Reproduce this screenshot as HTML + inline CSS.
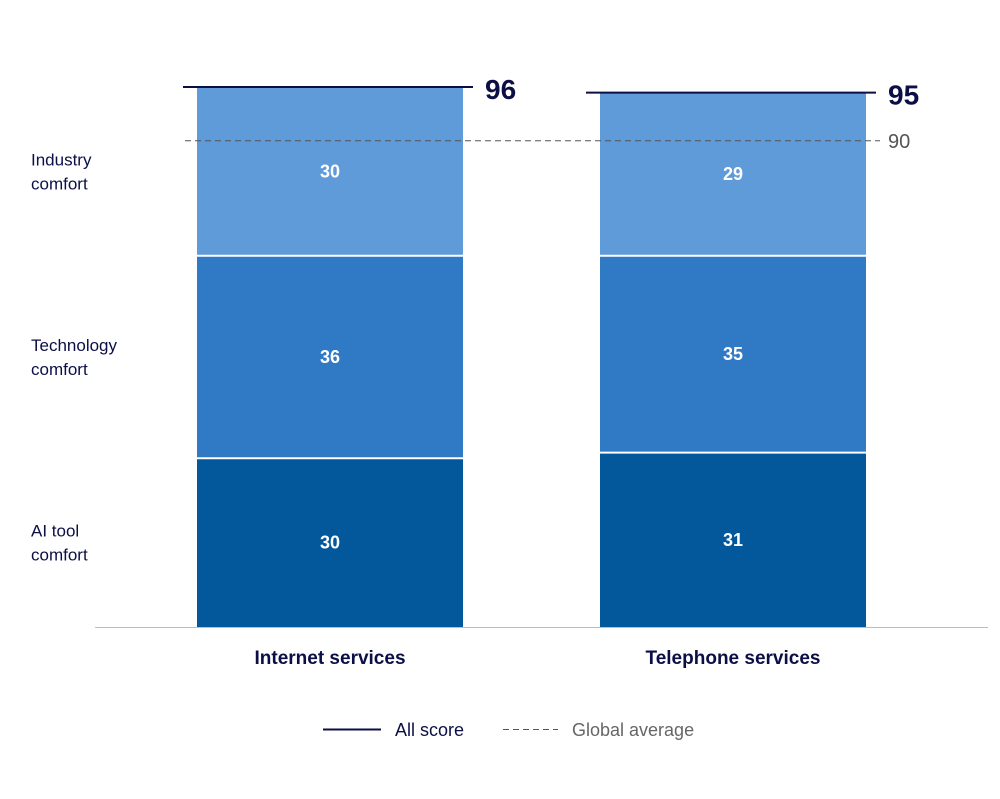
<!DOCTYPE html>
<html><head><meta charset="utf-8"><style>
body{margin:0;background:#fff;font-family:"Liberation Sans",sans-serif;}
svg text{font-family:"Liberation Sans",sans-serif;}
</style></head><body>
<svg width="1000" height="794" viewBox="0 0 1000 794">
<g id="rows"></g>
<g id="bars"></g>
<line x1="95" y1="627.5" x2="988" y2="627.5" stroke="#bdbdbd" stroke-width="1"/>
<g>
  <line x1="323" y1="729.5" x2="381" y2="729.5" stroke="#0b0f45" stroke-width="2"/>
  <text x="395" y="736" font-size="18" fill="#0b0f45">All score</text>
  <line x1="503" y1="729.5" x2="558" y2="729.5" stroke="#555" stroke-width="1" stroke-dasharray="6,4"/>
  <text x="572" y="736" font-size="18" fill="#666">Global average</text>
</g>
</svg>
<script>
const categories = ["Internet services", "Telephone services"];
const seriesNames = ["AI tool comfort", "Technology comfort", "Industry comfort"];
const aiTool = [30, 31];
const technology = [36, 35];
const industry = [30, 29];
const allScore = [96, 95];
const globalAverage = 90;

const NS = "http://www.w3.org/2000/svg";
const svg = document.querySelector("svg");
const barsG = document.getElementById("bars");
const baseY = 627, pxPerUnit = 5.625;
const y = v => baseY - v * pxPerUnit;
const barX = i => 197 + i * 403;
const barW = 266;
const colors = ["#02589b", "#3079c5", "#5f9ad9"];
const series = [aiTool, technology, industry];

function mk(tag, attrs) { const e = document.createElementNS(NS, tag); for (const k in attrs) e.setAttribute(k, attrs[k]); return e; }

categories.forEach((cat, i) => {
  let cum = 0;
  series.forEach((s, j) => {
    const y0 = y(cum), y1 = y(cum + s[i]);
    const r = mk("rect", {x: barX(i), y: y1 + (j < 2 ? 1 : 0), width: barW, height: Math.max(0, y0 - y1 - (j < 2 ? 1 : 0) - (j > 0 ? 1 : 0)), fill: colors[j]});
    
    
    barsG.appendChild(r);
    const t = mk("text", {x: barX(i) + barW / 2, y: (y0 + y1) / 2 + 6, "text-anchor": "middle", "font-size": "18", fill: "#fff", "font-weight": "bold"});
    t.textContent = s[i];
    
    
    barsG.appendChild(t);
    cum += s[i];
  });
  const ty = y(allScore[i]);
  const l = mk("line", {x1: barX(i) - 14, x2: barX(i) + barW + 10, y1: ty, y2: ty, stroke: "#0b0f45", "stroke-width": 2});
  
  
  barsG.appendChild(l);
  const lt = mk("text", {x: barX(i) + barW + 22, y: ty + 12, "font-size": "28", fill: "#0b0f45", "font-weight": "bold"});
  lt.textContent = allScore[i];
  
  
  barsG.appendChild(lt);
  const ct = mk("text", {x: barX(i) + barW / 2, y: 664, "text-anchor": "middle", "font-size": "19", fill: "#0b0f45", "font-weight": "bold"});
  ct.textContent = cat;
  
  
  barsG.appendChild(ct);
});

const ay = y(globalAverage) + 20;
const al = mk("line", {x1: 185, x2: 880, y1: ay, y2: ay, stroke: "#555", "stroke-width": 1, "stroke-dasharray": "6,4"});


barsG.appendChild(al);
const at = mk("text", {x: 888, y: ay + 7, "font-size": "20", fill: "#555"});
at.textContent = globalAverage;


barsG.appendChild(at);

const rowsG = document.getElementById("rows");
let cum = 0;
series.forEach((s, j) => {
  const mid = (y(cum) + y(cum + s[0])) / 2;
  const words = seriesNames[j].split(" ");
  const first = words.slice(0, -1).join(" "), second = words[words.length - 1];
  const t = mk("text", {x: 31, y: mid - 6, "font-size": "17", fill: "#0b0f45"});
  const t1 = mk("tspan", {x: 31}); t1.textContent = first;
  const t2 = mk("tspan", {x: 31, dy: 24}); t2.textContent = second;
  t.appendChild(t1); t.appendChild(t2);
  
  
  rowsG.appendChild(t);
  cum += s[0];
});
</script>
</body></html>
